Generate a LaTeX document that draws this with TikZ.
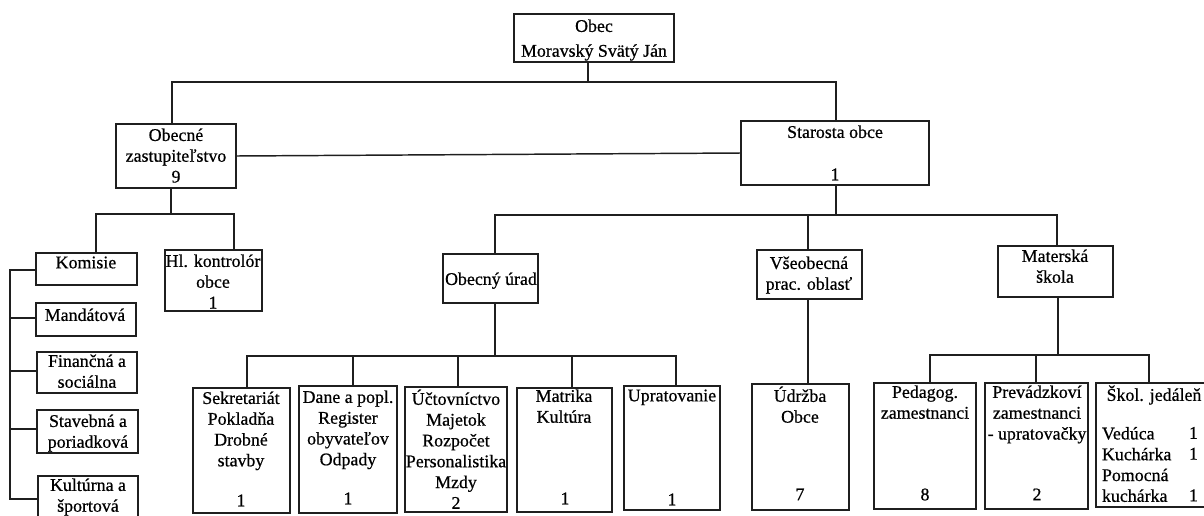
\documentclass[tikz,border=0pt]{standalone}
\usepackage{fontspec}
\setmainfont{Liberation Serif}[RawFeature={embolden=0.6}]
\tikzset{
  unitbox/.style={draw=black!88,line width=1.1pt,fill=white,inner sep=0pt,outer sep=0pt},
  wire/.style={draw=black!88,line width=1.1pt,line cap=rect,line join=miter},
  lbl/.style={inner sep=0pt,outer sep=0pt,align=center,anchor=north,text=black,font=\fontsize{13.4}{15.6}\selectfont},
  lblleft/.style={lbl,align=left,anchor=north west}
}
\newcommand{\boxat}[5]{\node[unitbox,minimum width={(#4-#2)*0.75pt},minimum height={(#5-#3)*0.75pt}] (#1) at ({(#2+#4)/2},{(#3+#5)/2}) {};}
\newcommand{\txt}[4]{\node[lbl] (#1) at (#2,{#3-8.5}) {#4};}
\begin{document}
\begin{tikzpicture}[x=0.75pt,y=-0.75pt]
\useasboundingbox (0,0) rectangle (1204,515);
% junctions
\coordinate (ja) at (588,82);
\coordinate (jb) at (172,82);
\coordinate (jc) at (836,82);
\coordinate (jd) at (171,214);
\coordinate (je) at (96,214);
\coordinate (jf) at (234,214);
\coordinate (jg) at (836,215);
\coordinate (jh) at (495,215);
\coordinate (ji) at (808,215);
\coordinate (jj) at (1057,215);
\coordinate (jk) at (495,356);
\coordinate (jl) at (247,356);
\coordinate (jm) at (353,356);
\coordinate (jn) at (458,356);
\coordinate (jo) at (572,356);
\coordinate (jp) at (676,356);
\coordinate (jq) at (1058,355);
\coordinate (jr) at (930,355);
\coordinate (js) at (1036,355);
\coordinate (jt) at (1149,355);
\coordinate (ju) at (10,270);
\coordinate (jv) at (10,318);
\coordinate (jw) at (10,371);
\coordinate (jx) at (10,429);
\coordinate (jy) at (10,499);
% boxes
\boxat{obec}{514}{14}{674}{62}
\boxat{zast}{116}{124}{236}{188}
\boxat{star}{741}{121}{929}{185}
\boxat{komi}{36}{253}{137}{285}
\boxat{kont}{165}{250}{262}{311}
\boxat{mand}{36}{303}{136}{336}
\boxat{fina}{37}{352}{137}{393}
\boxat{stav}{37}{410}{138}{453}
\boxat{kult}{38}{476}{138}{530}
\boxat{sekr}{193}{388}{290}{513}
\boxat{dane}{299}{386}{397}{513}
\boxat{urad}{443}{254}{538}{303}
\boxat{ucto}{405}{387}{507}{512}
\boxat{matr}{517}{388}{612}{512}
\boxat{upra}{624}{386}{720}{510}
\boxat{vseo}{757}{250}{862}{299}
\boxat{udrz}{752}{384}{849}{510}
\boxat{mate}{998}{246}{1113}{297}
\boxat{peda}{874}{383}{976}{509}
\boxat{prev}{985}{383}{1088}{509}
\boxat{skol}{1096}{383}{1215}{507}
% connectors
\draw[wire] (obec.south -| ja) -- (ja);
\draw[wire] (zast.north -| jb) -- (jb) -- (jc) -- (star.north -| jc);
\draw[wire] (zast.east) -- (star.west);
\draw[wire] (zast.south -| jd) -- (jd);
\draw[wire] (komi.north -| je) -- (je) -- (jf) -- (kont.north -| jf);
\draw[wire] (komi.west |- ju) -- (ju) -- (jy) -- (kult.west |- jy);
\draw[wire] (jv) -- (mand.west |- jv);
\draw[wire] (jw) -- (fina.west |- jw);
\draw[wire] (jx) -- (stav.west |- jx);
\draw[wire] (star.south -| jg) -- (jg);
\draw[wire] (urad.north -| jh) -- (jh) -- (jj) -- (mate.north -| jj);
\draw[wire] (vseo.north -| ji) -- (ji);
\draw[wire] (urad.south -| jk) -- (jk);
\draw[wire] (sekr.north -| jl) -- (jl) -- (jp) -- (upra.north -| jp);
\draw[wire] (dane.north -| jm) -- (jm);
\draw[wire] (ucto.north -| jn) -- (jn);
\draw[wire] (matr.north -| jo) -- (jo);
\draw[wire] (vseo.south -| ji) -- (udrz.north -| ji);
\draw[wire] (mate.south -| jq) -- (jq);
\draw[wire] (peda.north -| jr) -- (jr) -- (jt) -- (skol.north -| jt);
\draw[wire] (prev.north -| js) -- (js);
% texts
\txt{tobec}{594}{28}{Obec\\[3pt]Moravský Svätý Ján}
\txt{tzast}{176}{137}{Obecné\\zastupiteľstvo\\9}
\txt{tstar}{835}{134}{Starosta obce}
\txt{tstarn}{835}{177}{1}
\txt{tkomi}{86}{265}{Komisie}
\txt{tkont}{213}{263}{Hl. kontrolór\\obce\\1}
\txt{tmand}{85}{317}{Mandátová}
\txt{tfina}{87}{363}{Finančná a\\sociálna}
\txt{tstav}{88}{423}{Stavebná a\\poriadková}
\txt{tkult}{88}{487}{Kultúrna a\\športová}
\txt{tsekr}{241}{400}{Sekretariát\\Pokladňa\\Drobné\\stavby}
\txt{tsekrn}{241}{503}{1}
\txt{tdane}{348}{399}{Dane a popl.\\Register\\obyvateľov\\Odpady}
\txt{tdanen}{348}{501}{1}
\txt{turad}{491}{281}{Obecný úrad}
\txt{tucto}{456}{398}{Účtovníctvo\\Majetok\\Rozpočet\\Personalistika\\Mzdy\\2}
\txt{tmatr}{564}{398}{Matrika\\Kultúra}
\txt{tmatrn}{565}{501}{1}
\txt{tupra}{672}{398}{Upratovanie}
\txt{tupran}{672}{502}{1}
\txt{tvseo}{809}{265}{Všeobecná\\prac. oblasť}
\txt{tudrz}{800}{395}{Údržba\\Obce}
\txt{tudrzn}{800}{497}{7}
\txt{tmate}{1055}{258}{Materská\\škola}
\txt{tpeda}{925}{394}{Pedagog.\\zamestnanci}
\txt{tpedan}{925}{497}{8}
\txt{tprev}{1037}{394}{Prevádzkoví\\zamestnanci\\- upratovačky}
\txt{tprevn}{1037}{497}{2}
\txt{tskol}{1154}{394}{Škol. jedáleň}
\node[lblleft] (tsk) at (1102,427) {Vedúca\\Kuchárka\\Pomocná\\kuchárka};
\node[lblleft] (tskn) at (1189,427) {1\\1\\\mbox{}\\1};
\end{tikzpicture}
\end{document}
